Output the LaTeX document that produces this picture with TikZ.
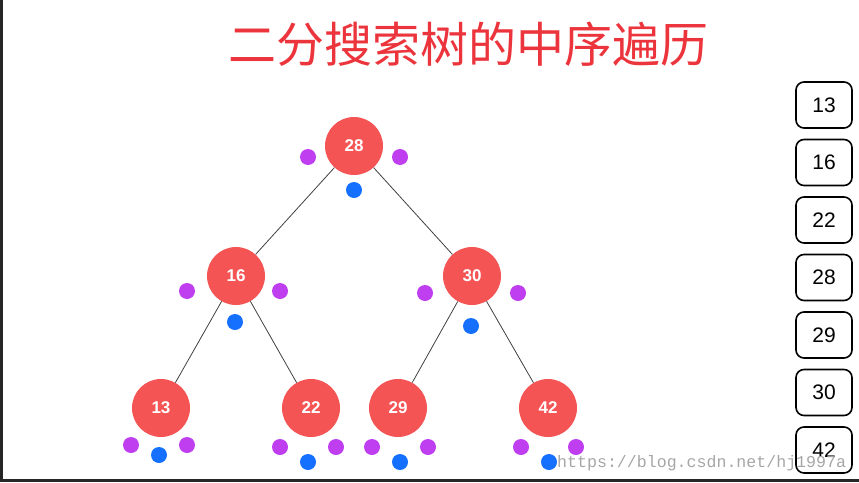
\documentclass[tikz,border=0pt]{standalone}
\usepackage{fontspec}
\setmainfont{Liberation Sans}
\setmonofont{Liberation Mono}
\newfontfamily\cjk{Noto Sans CJK SC}
\usetikzlibrary{positioning}
\definecolor{tomato}{RGB}{245,84,84}
\definecolor{crimson}{RGB}{236,52,60}
\definecolor{orchid}{RGB}{190,62,240}
\definecolor{sky}{RGB}{22,112,255}
\tikzset{
  key/.style={circle,fill=tomato,minimum size=58pt,inner sep=0pt,text=white,
    font=\fontsize{17}{17}\selectfont\bfseries},
  ptr/.style={circle,fill=#1,minimum size=16pt,inner sep=0pt},
  ptr/.default=orchid,
  link/.style={draw=black!75,line width=0.8pt},
  slot/.style={draw=black,line width=1.6pt,rounded corners=8pt,
    minimum width=56pt,minimum height=46pt,font=\fontsize{21}{21}\selectfont},
}

\begin{document}
\begin{tikzpicture}[x=1pt,y=-1pt]
  \useasboundingbox (0,0) rectangle (859,482);
  \node[font=\cjk\fontsize{48}{48}\selectfont,text=crimson] (title) at (468,44) {二分搜索树的中序遍历};
  % tree
  \node[key] (n28) at (354,146) {28};
  \node[key] (n16) at (236,276) {16};
  \node[key] (n30) at (472,276) {30};
  \node[key] (n13) at (161,408) {13};
  \node[key] (n22) at (311,408) {22};
  \node[key] (n29) at (398,408) {29};
  \node[key] (n42) at (548,408) {42};
  \foreach \a/\b in {n28/n16,n28/n30,n16/n13,n16/n22,n30/n29,n30/n42}
    \draw[link] (\a) -- (\b);
  % left / right / middle markers
  \foreach \n/\lx/\rx/\sy/\mx/\my in {28/308/400/157/354/190,16/187/280/291/235/322,
      30/425/518/293/471/326,13/131/187/445/159/455,22/280/336/447/308/462,
      29/372/428/447/400/462,42/521/576/447/549/462}{
    \node[ptr] (l\n) at (\lx,\sy) {};
    \node[ptr] (r\n) at (\rx,\sy) {};
    \node[ptr=sky] (m\n) at (\mx,\my) {};
  }
  % output
  \foreach \v [count=\i] in {13,16,22,28,29,30,42}
    \node[slot] (s\v) at (824,{105+57.5*(\i-1)}) {\v};
  \node[font=\ttfamily\fontsize{16.6}{16.6}\selectfont,text=black!35,anchor=west,inner sep=0pt] (mark) at (557,463) {https://blog.csdn.net/hj1997a};
  \draw[line width=3pt,black!85] (1.5,0) -- (1.5,480.5) -- (859,480.5);
\end{tikzpicture}
\end{document}
